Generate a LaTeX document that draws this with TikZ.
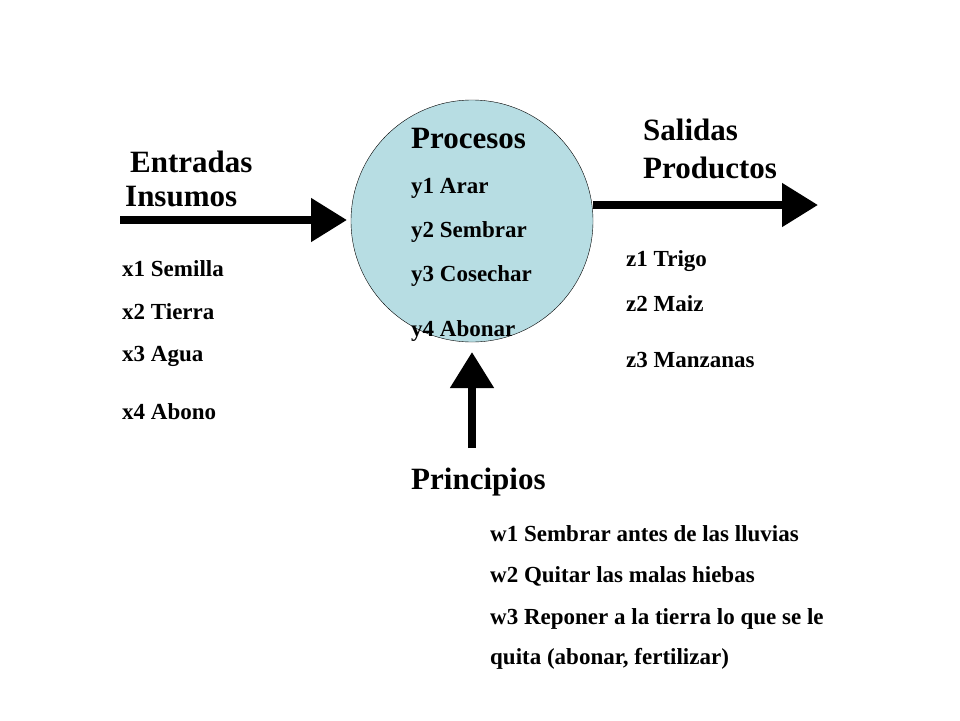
\documentclass[tikz,border=0pt]{standalone}
\usepackage{fontspec}
\setmainfont{Liberation Serif}
\usetikzlibrary{arrows.meta}
\definecolor{procfill}{HTML}{B7DDE3}
\tikzset{
  big/.style={font=\bfseries\fontsize{31}{34}\selectfont, anchor=west, inner sep=0pt},
  small/.style={font=\bfseries\fontsize{23}{26}\selectfont, anchor=west, inner sep=0pt},
  flow/.style={line width=8pt, -{Triangle[length=36pt,width=42pt]}}
}
\begin{document}
\begin{tikzpicture}[x=1pt,y=-1pt]
\useasboundingbox (0,0) rectangle (960,720);
% proceso
\node (proc) [circle, draw=black, fill=procfill, minimum size=242pt, inner sep=0pt] at (472,221) {};
\node [big] at (411,138) {Procesos};
\node [small] at (411,188) {y1 Arar};
\node [small] at (411,232) {y2 Sembrar};
\node [small] at (411,276) {y3 Cosechar};
\node [small] at (411,331) {y4 Abonar};
% entradas
\coordinate (inA) at (120,220);
\coordinate (inB) at (347,220);
\draw [flow] (inA) -- (inB);
\node [big] at (130,162) {Entradas};
\node [big] at (125,197) {Insumos};
\node [small] at (122,269) {x1 Semilla};
\node [small] at (122,312) {x2 Tierra};
\node [small] at (122,356) {x3 Agua};
\node [small] at (122,412) {x4 Abono};
% salidas
\coordinate (outA) at (593,205);
\coordinate (outB) at (818,205);
\draw [flow] (outA) -- (outB);
\node [big] at (643,130) {Salidas};
\node [big] at (643,168) {Productos};
\node [small] at (626,261) {z1 Trigo};
\node [small] at (626,304) {z2 Maiz};
\node [small] at (626,360) {z3 Manzanas};
% principios
\coordinate (prA) at (472,448);
\coordinate (prB) at (472,352);
\draw [flow] (prA) -- (prB);
\node [big] at (411,482) {Principios};
\node [small] at (490,534) {w1 Sembrar antes de las lluvias};
\node [small] at (490,576) {w2 Quitar las malas hiebas};
\node [small] at (490,619) {w3 Reponer a la tierra lo que se le};
\node [small] at (490,659) {quita (abonar, fertilizar)};
\end{tikzpicture}
\end{document}
